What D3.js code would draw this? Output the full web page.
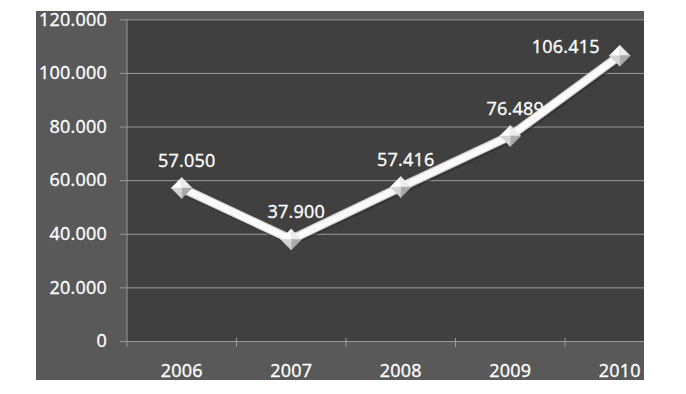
<!DOCTYPE html>
<html>
<head>
<meta charset="utf-8">
<script src="https://cdn.jsdelivr.net/npm/d3@7"></script>
<style>
  html, body { margin: 0; padding: 0; background: #fff; }
  svg { display: block; }
  text { font-family: "Open Sans", Lato, sans-serif; fill: #fff; stroke: #fff; stroke-width: 0.35px; }
</style>
</head>
<body>
<svg id="chart" width="686" height="394"></svg>
<script>
// data (values in units, shown with "." as thousands separator)
const years = ['2006', '2007', '2008', '2009', '2010'];
const values = [57050, 37900, 57416, 76489, 106415];
const yTicks = [0, 20000, 40000, 60000, 80000, 100000, 120000];

const W = 686, H = 394;
// outer chart box (the picture is a crop of a bigger chart)
const box = { x: 36, y: 11, w: 608, h: 369 };
const plot = { left: 127, top: 19.3, right: 674.5, bottom: 341 };
const fontSize = 18;

const fmt = d3.formatLocale({ decimal: ',', thousands: '.', grouping: [3] }).format(',d');

const svg = d3.select('#chart');

svg.append('defs').append('clipPath').attr('id', 'boxclip')
  .append('rect').attr('x', box.x).attr('y', box.y).attr('width', box.w).attr('height', box.h);

const g = svg.append('g').attr('clip-path', 'url(#boxclip)');

// backgrounds
g.append('rect').attr('x', box.x).attr('y', box.y).attr('width', box.w).attr('height', box.h)
  .attr('fill', '#595959');
g.append('rect').attr('x', plot.left).attr('y', plot.top)
  .attr('width', plot.right - plot.left).attr('height', plot.bottom - plot.top)
  .attr('fill', '#404040');

const x = d3.scaleBand().domain(years).range([plot.left, plot.right]);
const y = d3.scaleLinear().domain([0, 120000]).range([plot.bottom, plot.top]);

// y axis with gridlines
const yAxis = g.append('g').attr('transform', `translate(${plot.left},0)`)
  .call(d3.axisLeft(y).tickValues(yTicks).tickFormat(fmt)
    .tickSize(-(plot.right - plot.left)).tickPadding(20));
yAxis.select('.domain').remove();
yAxis.selectAll('.tick line')
  .attr('x1', -7)
  .attr('stroke', '#9a9a9a').attr('stroke-width', 1);
yAxis.selectAll('.tick text')
  .attr('font-size', fontSize).attr('letter-spacing', 0.2)
  .style('font-family', '"Open Sans", sans-serif').attr('fill', '#fff');
g.append('line').attr('x1', plot.left).attr('x2', plot.left)
  .attr('y1', plot.top).attr('y2', plot.bottom + 6)
  .attr('stroke', '#9a9a9a');

// x axis
const xAxis = g.append('g').attr('transform', `translate(0,${plot.bottom})`)
  .call(d3.axisBottom(x).tickSize(0).tickPadding(23));
xAxis.select('.domain').attr('stroke', '#9a9a9a');
xAxis.selectAll('.tick text')
  .attr('font-size', fontSize).attr('letter-spacing', 0.2)
  .style('font-family', '"Open Sans", sans-serif').attr('fill', '#fff');
// category boundary ticks
g.append('g').selectAll('line')
  .data(years.slice(1))
  .join('line')
  .attr('x1', d => x(d)).attr('x2', d => x(d))
  .attr('y1', plot.bottom - 3).attr('y2', plot.bottom + 6)
  .attr('stroke', '#9a9a9a');

// line
const cx = d => x(d) + x.bandwidth() / 2;
const pts = years.map((d, i) => [cx(d), y(values[i])]);
const line = d3.line();
g.append('path').attr('d', line(pts.map(p => [p[0] + 1.5, p[1] + 2])))
  .attr('fill', 'none').attr('stroke', '#2e2e2e').attr('stroke-width', 9).attr('opacity', 0.6);
g.append('path').attr('d', line(pts))
  .attr('fill', 'none').attr('stroke', '#d6d6d6').attr('stroke-width', 9);
g.append('path').attr('d', line(pts))
  .attr('fill', 'none').attr('stroke', '#fafafa').attr('stroke-width', 6.5);

// diamond markers, shaded like a little pyramid
const r = 10.5;
const facets = [
  { p: [[-r, 0], [0, -r], [0, 0]], fill: '#ffffff' },
  { p: [[0, -r], [r, 0], [0, 0]], fill: '#ececec' },
  { p: [[r, 0], [0, r], [0, 0]], fill: '#a9a9a9' },
  { p: [[0, r], [-r, 0], [0, 0]], fill: '#d4d4d4' }
];
const mk = g.append('g').selectAll('g')
  .data(pts)
  .join('g')
  .attr('transform', d => `translate(${d[0]},${d[1]})`);
mk.selectAll('path')
  .data(facets)
  .join('path')
  .attr('d', f => 'M' + f.p.join('L') + 'Z')
  .attr('fill', f => f.fill)
  .attr('stroke', f => f.fill).attr('stroke-width', 0.5);

// value labels
g.append('g').selectAll('text')
  .data(values)
  .join('text')
  .attr('x', (d, i) => i === values.length - 1 ? pts[i][0] - 20 : pts[i][0] + 5)
  .attr('y', (d, i) => i === values.length - 1 ? pts[i][1] - 3 : pts[i][1] - 21)
  .attr('text-anchor', (d, i) => i === values.length - 1 ? 'end' : 'middle')
  .attr('font-size', fontSize).attr('letter-spacing', 0.2)
  .text(d => fmt(d));
</script>
</body>
</html>
